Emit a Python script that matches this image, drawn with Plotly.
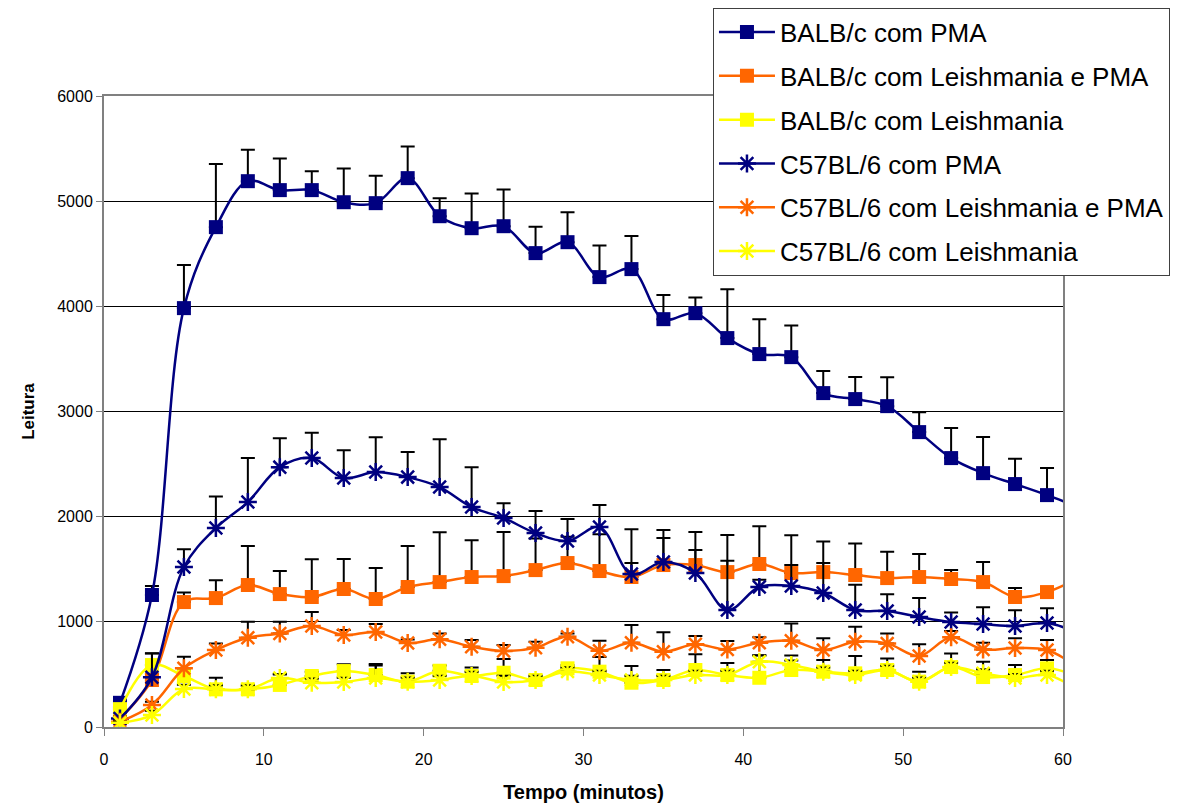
import plotly.graph_objects as go

# Time points (minutes); the last point lies just beyond the visible axis range
tempo = [1, 3, 5, 7, 9, 11, 13, 15, 17, 19, 21, 23, 25, 27, 29, 31, 33, 35, 37, 39,
         41, 43, 45, 47, 49, 51, 53, 55, 57, 59, 61]

balb_pma = [230, 1255, 3983, 4753, 5190, 5105, 5105, 4990, 4981, 5219, 4857, 4743, 4762,
            4506, 4610, 4278, 4354, 3878, 3935, 3698, 3546, 3517, 3175, 3118, 3051, 2804,
            2557, 2414, 2310, 2205, 2090]
balb_pma_err = [20, 85, 410, 600, 300, 300, 180, 320, 260, 300, 170, 330, 350, 250, 285,
                300, 315, 230, 150, 465, 330, 300, 210, 210, 275, 190, 285, 343, 240, 257, 0]

balb_lpma = [80, 447, 1188, 1226, 1350, 1264, 1236, 1312, 1217, 1331, 1378, 1426, 1435,
             1492, 1559, 1483, 1426, 1540, 1540, 1473, 1550, 1464, 1473, 1445, 1416, 1426,
             1407, 1378, 1236, 1283, 1420]
balb_lpma_err = [20, 60, 90, 170, 370, 220, 360, 285, 295, 390, 475, 350, 420, 300, 250,
                 350, 455, 333, 314, 352, 360, 360, 290, 300, 250, 220, 85, 190, 85, 40, 0]

balb_l = [170, 589, 485, 358, 358, 400, 485, 532, 494, 431, 535, 485, 516, 447, 558, 526,
          421, 447, 542, 494, 468, 542, 526, 510, 542, 431, 570, 475, 494, 558, 480]
balb_l_err = [20, 110, 50, 110, 30, 100, 40, 64, 105, 80, 50, 80, 130, 30, 30, 140, 160,
              95, 150, 115, 215, 90, 110, 165, 110, 95, 130, 145, 95, 80, 0]

c57_pma = [80, 472, 1521, 1892, 2139, 2471, 2557, 2367, 2424, 2376, 2281, 2091, 1987, 1844,
           1768, 1901, 1454, 1568, 1464, 1112, 1331, 1340, 1274, 1112, 1103, 1046, 998, 979,
           960, 988, 890]
c57_pma_err = [20, 230, 170, 300, 420, 275, 240, 265, 330, 240, 455, 380, 140, 210, 210,
               210, 105, 230, 220, 470, 70, 200, 285, 240, 160, 180, 90, 160, 150, 140, 0]

c57_lpma = [50, 209, 558, 732, 849, 890, 960, 875, 903, 799, 834, 764, 722, 754, 859, 725,
            801, 716, 786, 738, 801, 820, 732, 811, 795, 675, 853, 738, 751, 732, 560]
c57_lpma_err = [10, 31, 111, 63, 151, 110, 133, 47, 76, 34, 56, 63, 58, 57, 31, 96, 169,
                184, 79, 79, 52, 165, 111, 143, 95, 111, 60, 63, 94, 95, 0]

c57_l = [40, 114, 361, 358, 358, 465, 421, 428, 465, 431, 447, 485, 428, 447, 527, 494,
         447, 447, 494, 494, 621, 590, 526, 494, 542, 431, 570, 510, 465, 494, 350]
c57_l_err = [10, 40, 40, 40, 40, 40, 40, 40, 120, 40, 40, 40, 60, 40, 40, 40, 40, 40, 40,
             40, 60, 90, 40, 40, 40, 40, 40, 40, 40, 40, 0]

nomes = ["BALB/c com PMA", "BALB/c com Leishmania e PMA", "BALB/c com Leishmania",
         "C57BL/6 com PMA", "C57BL/6 com Leishmania e PMA", "C57BL/6 com Leishmania"]

series = [balb_pma, balb_lpma, balb_l, c57_pma, c57_lpma, c57_l]
erros = [balb_pma_err, balb_lpma_err, balb_l_err, c57_pma_err, c57_lpma_err, c57_l_err]
cores = ["#000080", "#FF6600", "#FFFF00", "#000080", "#FF6600", "#FFFF00"]
simbolos = ["square", "square", "square", "asterisk-open", "asterisk-open", "asterisk-open"]

FONT = "Arial, Liberation Sans, sans-serif"

fig = go.Figure()
for i, (nome, ys, es, cor, sym) in enumerate(zip(nomes, series, erros, cores, simbolos)):
    is_sq = sym == "square"
    fig.add_trace(go.Scatter(
        x=tempo, y=ys, name=nome, mode="lines+markers",
        legendgroup=f"g{i}",
        line=dict(color=cor, width=2.5, shape="spline", smoothing=1.0),
        marker=dict(symbol=sym, size=14 if is_sq else 15, color=cor,
                    line=dict(color=cor, width=0 if is_sq else 2.5)),
        error_y=dict(type="data", array=es, arrayminus=[0] * len(es), symmetric=False,
                     color="black", thickness=2, width=7),
    ))

fig.update_layout(
    width=1183, height=807,
    margin=dict(l=104, r=120, t=96, b=80, autoexpand=False),
    plot_bgcolor="white", paper_bgcolor="white",
    font=dict(family=FONT, size=16, color="black"),
    showlegend=True,
    legend=dict(x=0.635, y=1.14, xanchor="left", yanchor="top",
                bordercolor="#404040", borderwidth=1, bgcolor="white",
                font=dict(family=FONT, size=26, color="black"),
                itemwidth=56, tracegroupgap=7),
    xaxis=dict(range=[0, 60], tickvals=[0, 10, 20, 30, 40, 50, 60],
               showgrid=False, zeroline=False,
               showline=True, linecolor="#808080", linewidth=2, mirror=True,
               ticks="outside", ticklen=7, tickcolor="#808080", tickwidth=1,
               ticklabelstandoff=10,
               tickfont=dict(family=FONT, size=16),
               title=dict(text="<b>Tempo (minutos)</b>", standoff=18,
                          font=dict(family=FONT, size=20))),
    yaxis=dict(range=[0, 6000], tickvals=[0, 1000, 2000, 3000, 4000, 5000, 6000],
               showgrid=True, gridcolor="black", gridwidth=1, zeroline=False,
               showline=True, linecolor="#808080", linewidth=2, mirror=True,
               ticks="outside", ticklen=6, tickcolor="#808080", tickwidth=1,
               tickfont=dict(family=FONT, size=16),
               title=dict(text="<b>Leitura</b>", standoff=18,
                          font=dict(family=FONT, size=17))),
)

fig.write_html("out.html")
